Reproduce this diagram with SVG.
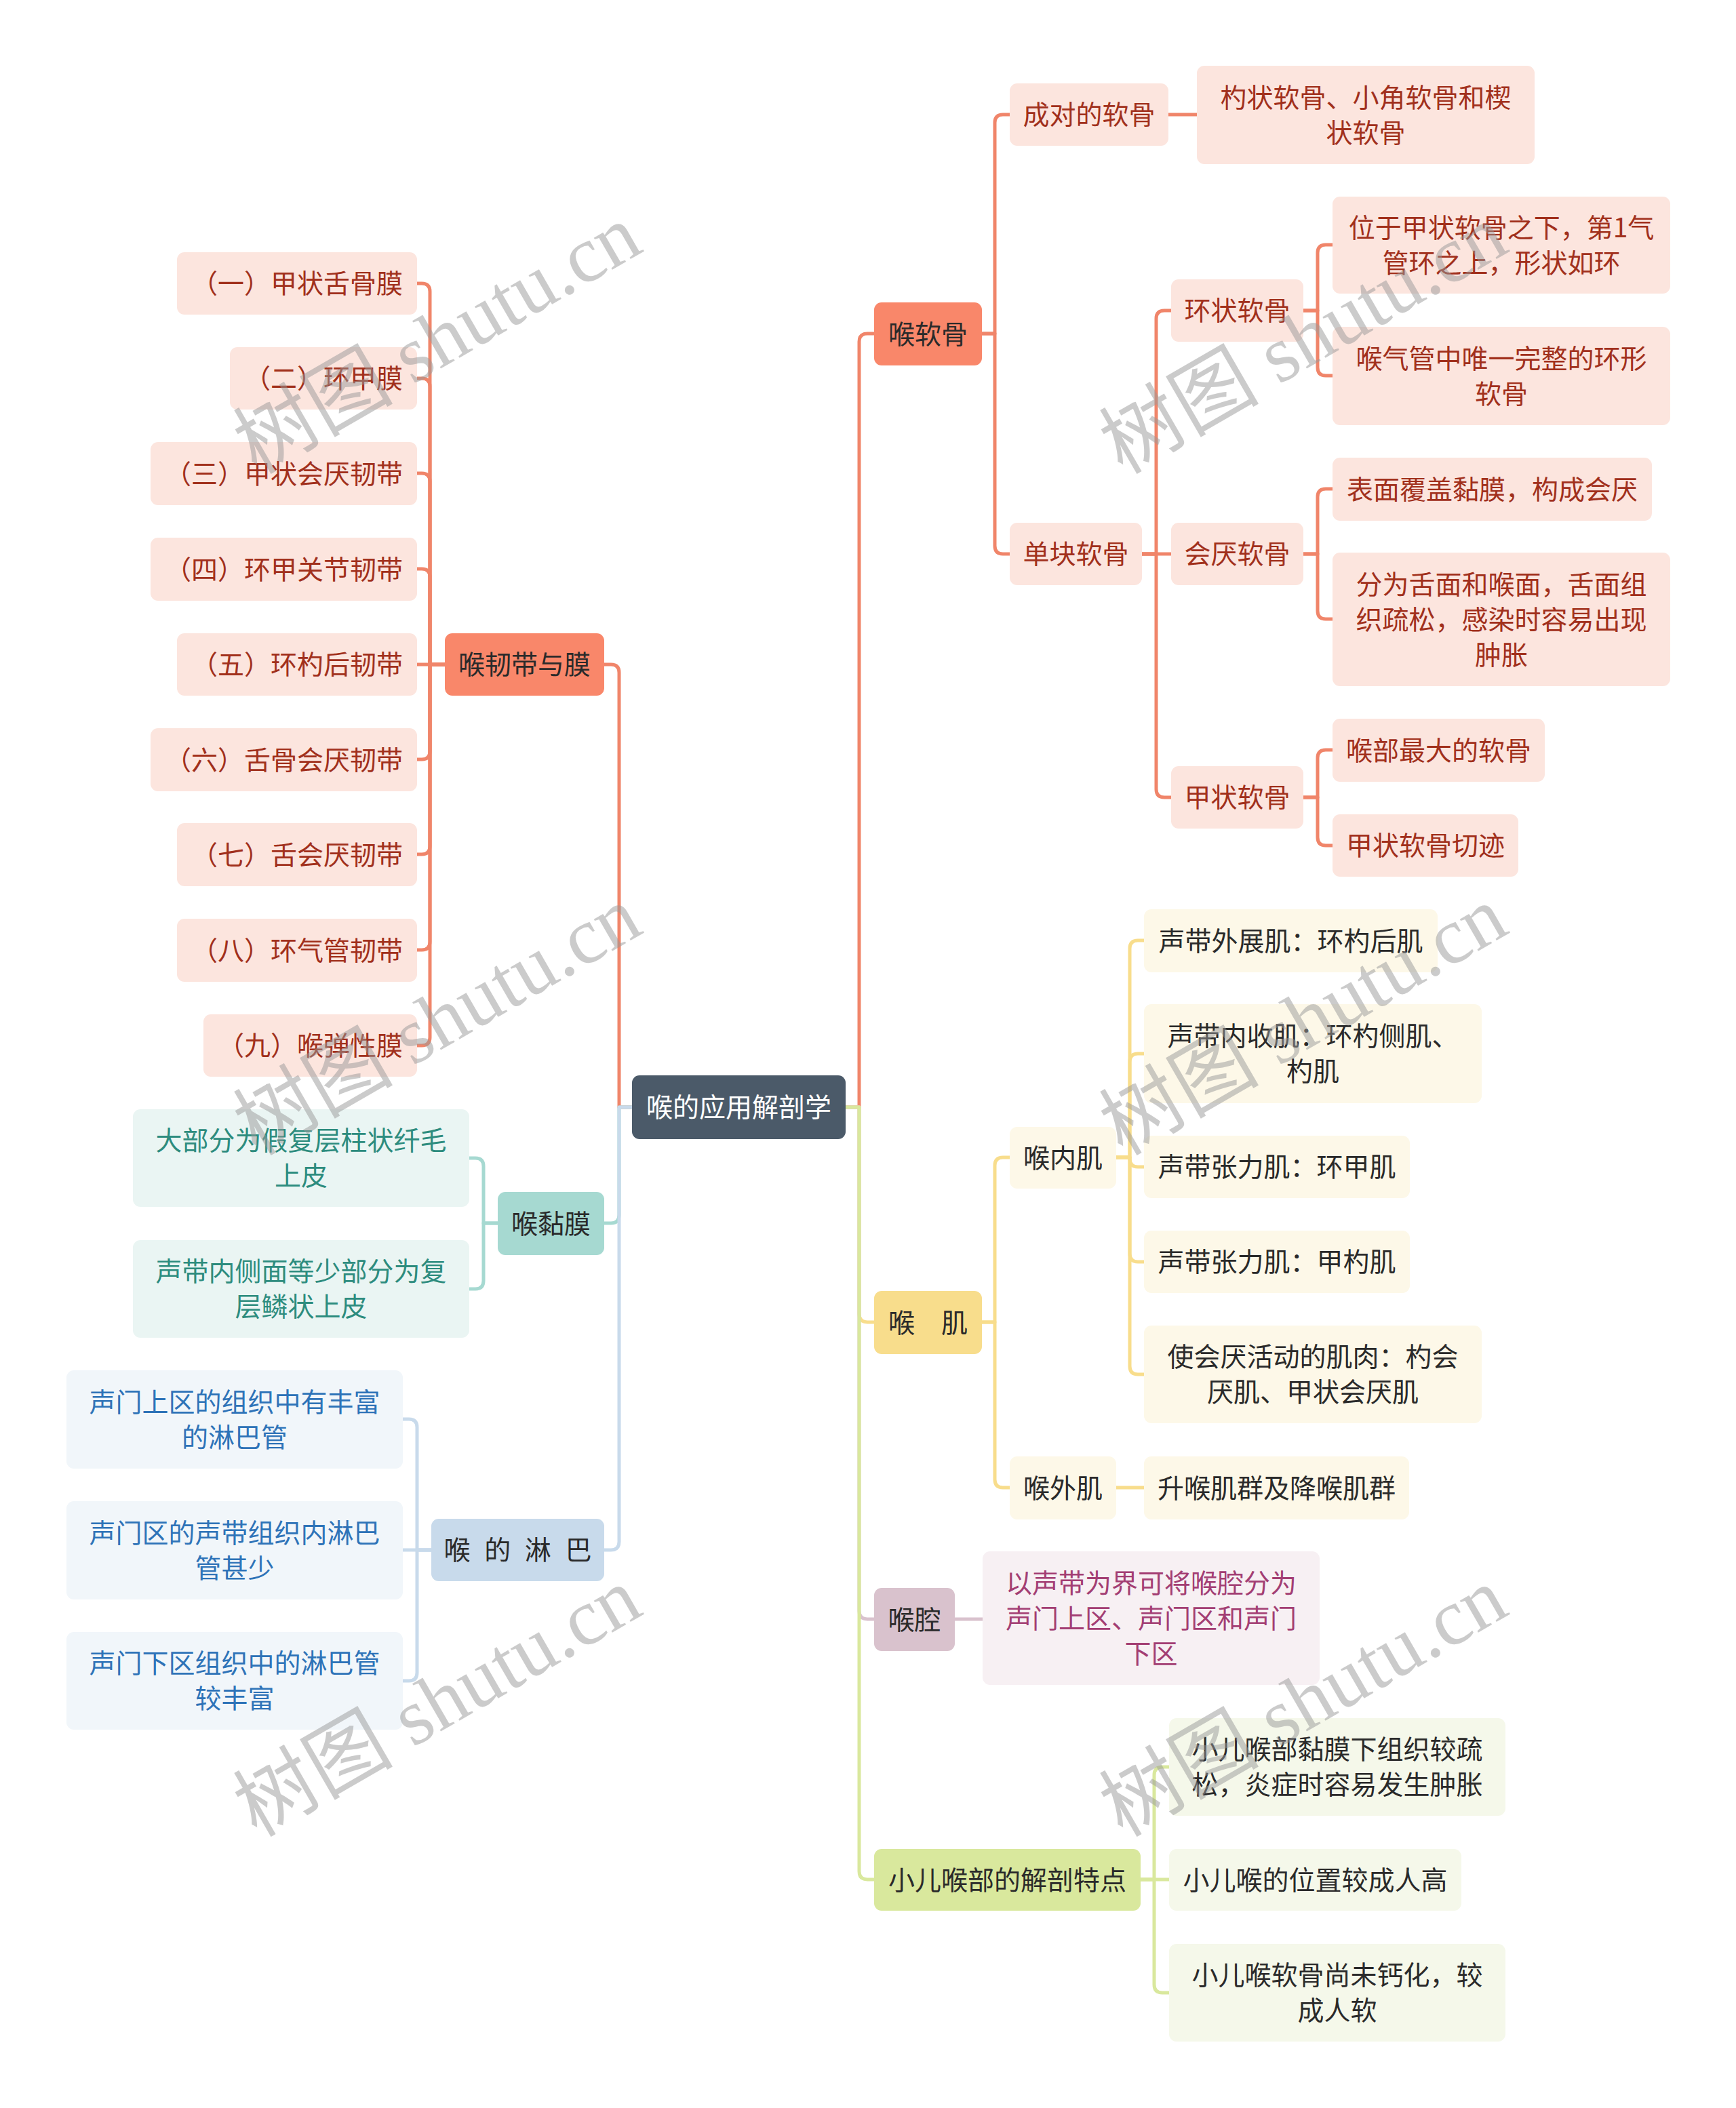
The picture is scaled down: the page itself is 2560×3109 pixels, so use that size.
<svg xmlns="http://www.w3.org/2000/svg" width="2560" height="3109" viewBox="0 0 2560 3109">
<style>
text{font-family:"Noto Sans CJK SC","Noto Sans",sans-serif;font-size:39px;text-anchor:middle;dominant-baseline:central}
g:not(.wm)>text{transform:translateY(-3px)}
.c path{fill:none;stroke-width:5;stroke-linecap:round;stroke-linejoin:round}
.sa{stroke:#F0856A}.ye{stroke:#F8DD8C}.ma{stroke:#D9C2CD}.gr{stroke:#D9E89D}.te{stroke:#A6D9D1}.bl{stroke:#C8DAEB}
rect{rx:11px;ry:11px}
.root rect{fill:#4B5A69}.root text{fill:#fff}
.m1 rect{fill:#F9876A}.m1 text{fill:#2a2a2a}
.s1 rect{fill:#FCE5DE}.s1 text{fill:#A1301C}
.m2 rect{fill:#F8DD8C}.m2 text{fill:#2a2a2a}
.s2 rect{fill:#FDF8E8}.s2 text{fill:#2a2a2a}
.m3 rect{fill:#D9C2CD}.m3 text{fill:#2a2a2a}
.s3 rect{fill:#F7F0F3}.s3 text{fill:#A33E73}
.m4 rect{fill:#D9E89D}.m4 text{fill:#2a2a2a}
.s4 rect{fill:#F5F8EA}.s4 text{fill:#2a2a2a}
.m5 rect{fill:#A6D9D1}.m5 text{fill:#2a2a2a}
.s5 rect{fill:#EAF5F3}.s5 text{fill:#2D8C7E}
.m6 rect{fill:#C8DAEB}.m6 text{fill:#2a2a2a}
.s6 rect{fill:#F1F6FA}.s6 text{fill:#2E73B8}
.wm text{font-family:"Liberation Serif","Noto Sans CJK SC",serif;font-size:118px;fill:#999;opacity:0.5;text-anchor:middle;dominant-baseline:auto}
</style>
<rect x="0" y="0" width="2560" height="3109" fill="#fff" rx="0" ry="0"/>
<g class="c" id="connectors">
<path class="sa" d="M1247 1633 H1267 V504 Q1267 492 1279 492 H1289"/>
<path class="ye" d="M1247 1633 H1267 V1938 Q1267 1950 1279 1950 H1289"/>
<path class="ma" d="M1247 1633 H1267 V2376 Q1267 2388 1279 2388 H1289"/>
<path class="gr" d="M1247 1633 H1267 V2760 Q1267 2772 1279 2772 H1289"/>
<path class="sa" d="M932 1633 H913 V992 Q913 980 901 980 H891"/>
<path class="te" d="M932 1633 H913 V1792 Q913 1804 901 1804 H891"/>
<path class="bl" d="M932 1633 H913 V2274 Q913 2286 901 2286 H891"/>
<path class="sa" d="M1448 492 H1467 V181 Q1467 169 1479 169 H1489"/>
<path class="sa" d="M1448 492 H1467 V805 Q1467 817 1479 817 H1489"/>
<path class="sa" d="M1723 169 H1765"/>
<path class="sa" d="M1684 817 H1705 V470 Q1705 458 1717 458 H1727"/>
<path class="sa" d="M1684 817 H1727"/>
<path class="sa" d="M1684 817 H1705 V1164 Q1705 1176 1717 1176 H1727"/>
<path class="sa" d="M1922 458 H1943 V373 Q1943 361 1955 361 H1965"/>
<path class="sa" d="M1922 458 H1943 V542 Q1943 554 1955 554 H1965"/>
<path class="sa" d="M1922 817 H1943 V733 Q1943 721 1955 721 H1965"/>
<path class="sa" d="M1922 817 H1943 V901 Q1943 913 1955 913 H1965"/>
<path class="sa" d="M1922 1176 H1943 V1118 Q1943 1106 1955 1106 H1965"/>
<path class="sa" d="M1922 1176 H1943 V1235 Q1943 1247 1955 1247 H1965"/>
<path class="ye" d="M1448 1950 H1467 V1719 Q1467 1707 1479 1707 H1489"/>
<path class="ye" d="M1448 1950 H1467 V2182 Q1467 2194 1479 2194 H1489"/>
<path class="ye" d="M1646 1707 H1666 V1399 Q1666 1387 1678 1387 H1687"/>
<path class="ye" d="M1646 1707 H1666 V1566 Q1666 1554 1678 1554 H1687"/>
<path class="ye" d="M1646 1707 H1666 V1709 Q1666 1721 1678 1721 H1687"/>
<path class="ye" d="M1646 1707 H1666 V1849 Q1666 1861 1678 1861 H1687"/>
<path class="ye" d="M1646 1707 H1666 V2015 Q1666 2027 1678 2027 H1687"/>
<path class="ye" d="M1646 2194 H1687"/>
<path class="ma" d="M1408 2388 H1449"/>
<path class="gr" d="M1682 2772 H1702 V2618 Q1702 2606 1714 2606 H1724"/>
<path class="gr" d="M1682 2772 H1724"/>
<path class="gr" d="M1682 2772 H1702 V2927 Q1702 2939 1714 2939 H1724"/>
<path class="sa" d="M656 980 H634 V430 Q634 418 622 418 H615"/>
<path class="sa" d="M656 980 H634 V570 Q634 558 622 558 H615"/>
<path class="sa" d="M656 980 H634 V710 Q634 698 622 698 H615"/>
<path class="sa" d="M656 980 H634 V851 Q634 839 622 839 H615"/>
<path class="sa" d="M656 980 H615"/>
<path class="sa" d="M656 980 H634 V1108 Q634 1120 622 1120 H615"/>
<path class="sa" d="M656 980 H634 V1248 Q634 1260 622 1260 H615"/>
<path class="sa" d="M656 980 H634 V1389 Q634 1401 622 1401 H615"/>
<path class="sa" d="M656 980 H634 V1530 Q634 1542 622 1542 H615"/>
<path class="te" d="M734 1804 H713 V1720 Q713 1708 701 1708 H692"/>
<path class="te" d="M734 1804 H713 V1889 Q713 1901 701 1901 H692"/>
<path class="bl" d="M636 2286 H615 V2105 Q615 2093 603 2093 H594"/>
<path class="bl" d="M636 2286 H594"/>
<path class="bl" d="M636 2286 H615 V2467 Q615 2479 603 2479 H594"/>
</g>
<g id="root" class="root"><rect x="932" y="1586" width="315" height="94"/><text x="1089.5" y="1633">喉的应用解剖学</text></g>
<g id="n-cartilage" class="m1"><rect x="1289" y="446" width="159" height="93"/><text x="1368.5" y="492.5">喉软骨</text></g>
<g id="n-paired" class="s1"><rect x="1489" y="123" width="234" height="92"/><text x="1606" y="169">成对的软骨</text></g>
<g id="n-paired-1" class="s1"><rect x="1765" y="97" width="498" height="145"/><text x="2014" y="143.5">杓状软骨、小角软骨和楔</text><text x="2014" y="195.5">状软骨</text></g>
<g id="n-single" class="s1"><rect x="1489" y="771" width="195" height="92"/><text x="1586.5" y="817">单块软骨</text></g>
<g id="n-cricoid" class="s1"><rect x="1727" y="412" width="195" height="92"/><text x="1824.5" y="458">环状软骨</text></g>
<g id="n-cricoid-1" class="s1"><rect x="1965" y="290" width="498" height="143"/><text x="2214" y="335.5">位于甲状软骨之下，第1气</text><text x="2214" y="387.5">管环之上，形状如环</text></g>
<g id="n-cricoid-2" class="s1"><rect x="1965" y="482" width="498" height="145"/><text x="2214" y="528.5">喉气管中唯一完整的环形</text><text x="2214" y="580.5">软骨</text></g>
<g id="n-epi" class="s1"><rect x="1727" y="771" width="195" height="92"/><text x="1824.5" y="817">会厌软骨</text></g>
<g id="n-epi-1" class="s1"><rect x="1965" y="675" width="471" height="93"/><text x="2200.5" y="721.5">表面覆盖黏膜，构成会厌</text></g>
<g id="n-epi-2" class="s1"><rect x="1965" y="815" width="498" height="197"/><text x="2214" y="861.5">分为舌面和喉面，舌面组</text><text x="2214" y="913.5">织疏松，感染时容易出现</text><text x="2214" y="965.5">肿胀</text></g>
<g id="n-thyroid" class="s1"><rect x="1727" y="1130" width="195" height="92"/><text x="1824.5" y="1176">甲状软骨</text></g>
<g id="n-thyroid-1" class="s1"><rect x="1965" y="1060" width="313" height="93"/><text x="2121.5" y="1106.5">喉部最大的软骨</text></g>
<g id="n-thyroid-2" class="s1"><rect x="1965" y="1201" width="274" height="92"/><text x="2102" y="1247">甲状软骨切迹</text></g>
<g id="n-muscle" class="m2"><rect x="1289" y="1904" width="159" height="93"/><text x="1368.5" y="1950.5">喉　肌</text></g>
<g id="n-intrinsic" class="s2"><rect x="1489" y="1662" width="157" height="91"/><text x="1567.5" y="1707.5">喉内肌</text></g>
<g id="n-in-1" class="s2"><rect x="1687" y="1341" width="433" height="93"/><text x="1903.5" y="1387.5">声带外展肌：环杓后肌</text></g>
<g id="n-in-2" class="s2"><rect x="1687" y="1481" width="498" height="146"/><text x="1936" y="1528">声带内收肌：环杓侧肌、</text><text x="1936" y="1580">杓肌</text></g>
<g id="n-in-3" class="s2"><rect x="1687" y="1675" width="392" height="92"/><text x="1883" y="1721">声带张力肌：环甲肌</text></g>
<g id="n-in-4" class="s2"><rect x="1687" y="1815" width="392" height="92"/><text x="1883" y="1861">声带张力肌：甲杓肌</text></g>
<g id="n-in-5" class="s2"><rect x="1687" y="1955" width="498" height="144"/><text x="1936" y="2001">使会厌活动的肌肉：杓会</text><text x="1936" y="2053">厌肌、甲状会厌肌</text></g>
<g id="n-extrinsic" class="s2"><rect x="1489" y="2148" width="157" height="93"/><text x="1567.5" y="2194.5">喉外肌</text></g>
<g id="n-ex-1" class="s2"><rect x="1687" y="2148" width="391" height="93"/><text x="1882.5" y="2194.5">升喉肌群及降喉肌群</text></g>
<g id="n-cavity" class="m3"><rect x="1289" y="2342" width="119" height="93"/><text x="1348.5" y="2388.5">喉腔</text></g>
<g id="n-cavity-1" class="s3"><rect x="1449" y="2288" width="497" height="197"/><text x="1697.5" y="2334.5">以声带为界可将喉腔分为</text><text x="1697.5" y="2386.5">声门上区、声门区和声门</text><text x="1697.5" y="2438.5">下区</text></g>
<g id="n-child" class="m4"><rect x="1289" y="2727" width="393" height="91"/><text x="1485.5" y="2772.5">小儿喉部的解剖特点</text></g>
<g id="n-child-1" class="s4"><rect x="1724" y="2534" width="496" height="144"/><text x="1972" y="2580">小儿喉部黏膜下组织较疏</text><text x="1972" y="2632">松，炎症时容易发生肿胀</text></g>
<g id="n-child-2" class="s4"><rect x="1724" y="2727" width="431" height="91"/><text x="1939.5" y="2772.5">小儿喉的位置较成人高</text></g>
<g id="n-child-3" class="s4"><rect x="1724" y="2867" width="496" height="144"/><text x="1972" y="2913">小儿喉软骨尚未钙化，较</text><text x="1972" y="2965">成人软</text></g>
<g id="n-lig" class="m1"><rect x="656" y="934" width="235" height="92"/><text x="773.5" y="980">喉韧带与膜</text></g>
<g id="n-lig-1" class="s1"><rect x="261" y="372" width="354" height="92"/><text x="438" y="418">（一）甲状舌骨膜</text></g>
<g id="n-lig-2" class="s1"><rect x="339" y="512" width="276" height="92"/><text x="477" y="558">（二）环甲膜</text></g>
<g id="n-lig-3" class="s1"><rect x="222" y="652" width="393" height="93"/><text x="418.5" y="698.5">（三）甲状会厌韧带</text></g>
<g id="n-lig-4" class="s1"><rect x="222" y="793" width="393" height="93"/><text x="418.5" y="839.5">（四）环甲关节韧带</text></g>
<g id="n-lig-5" class="s1"><rect x="261" y="934" width="354" height="92"/><text x="438" y="980">（五）环杓后韧带</text></g>
<g id="n-lig-6" class="s1"><rect x="222" y="1074" width="393" height="93"/><text x="418.5" y="1120.5">（六）舌骨会厌韧带</text></g>
<g id="n-lig-7" class="s1"><rect x="261" y="1214" width="354" height="93"/><text x="438" y="1260.5">（七）舌会厌韧带</text></g>
<g id="n-lig-8" class="s1"><rect x="261" y="1355" width="354" height="93"/><text x="438" y="1401.5">（八）环气管韧带</text></g>
<g id="n-lig-9" class="s1"><rect x="300" y="1496" width="315" height="92"/><text x="457.5" y="1542">（九）喉弹性膜</text></g>
<g id="n-mucosa" class="m5"><rect x="734" y="1758" width="157" height="93"/><text x="812.5" y="1804.5">喉黏膜</text></g>
<g id="n-mucosa-1" class="s5"><rect x="196" y="1636" width="496" height="144"/><text x="444" y="1682">大部分为假复层柱状纤毛</text><text x="444" y="1734">上皮</text></g>
<g id="n-mucosa-2" class="s5"><rect x="196" y="1829" width="496" height="144"/><text x="444" y="1875">声带内侧面等少部分为复</text><text x="444" y="1927">层鳞状上皮</text></g>
<g id="n-lymph" class="m6"><rect x="636" y="2240" width="255" height="92"/><text x="763.5" y="2286" style="word-spacing:12px">喉 的 淋 巴</text></g>
<g id="n-lymph-1" class="s6"><rect x="98" y="2021" width="496" height="145"/><text x="346" y="2067.5">声门上区的组织中有丰富</text><text x="346" y="2119.5">的淋巴管</text></g>
<g id="n-lymph-2" class="s6"><rect x="98" y="2214" width="496" height="145"/><text x="346" y="2260.5">声门区的声带组织内淋巴</text><text x="346" y="2312.5">管甚少</text></g>
<g id="n-lymph-3" class="s6"><rect x="98" y="2407" width="496" height="144"/><text x="346" y="2453">声门下区组织中的淋巴管</text><text x="346" y="2505">较丰富</text></g>
<g class="wm" id="watermarks">
<text transform="translate(646,502) rotate(-30)" x="0" y="38">树图 shutu.cn</text>
<text transform="translate(1923,502) rotate(-30)" x="0" y="38">树图 shutu.cn</text>
<text transform="translate(646,1507) rotate(-30)" x="0" y="38">树图 shutu.cn</text>
<text transform="translate(1923,1507) rotate(-30)" x="0" y="38">树图 shutu.cn</text>
<text transform="translate(646,2512) rotate(-30)" x="0" y="38">树图 shutu.cn</text>
<text transform="translate(1923,2512) rotate(-30)" x="0" y="38">树图 shutu.cn</text>
</g>
</svg>
